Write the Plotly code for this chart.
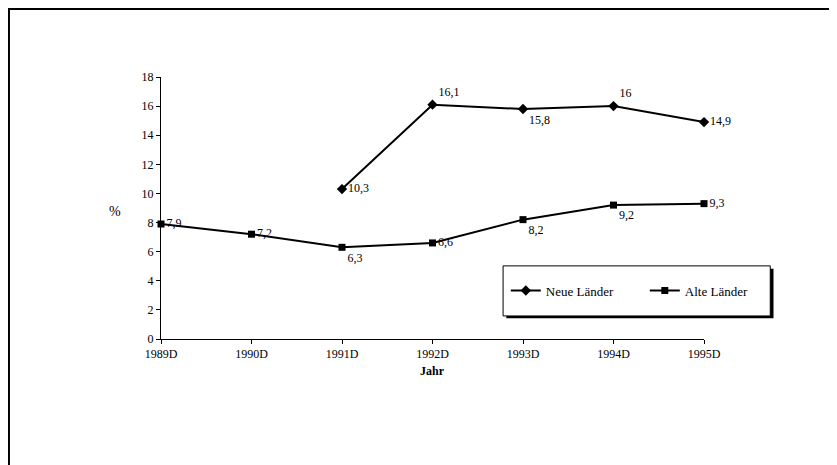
import plotly.graph_objects as go

# data
years = ["1989D", "1990D", "1991D", "1992D", "1993D", "1994D", "1995D"]
neue_laender = [None, None, 10.3, 16.1, 15.8, 16.0, 14.9]
alte_laender = [7.9, 7.2, 6.3, 6.6, 8.2, 9.2, 9.3]
y_ticks = [0, 2, 4, 6, 8, 10, 12, 14, 16, 18]

# label placement per point (style only)
neue_pos = ["middle right", "middle right", "middle right", "top right",
            "bottom right", "top right", "middle right"]
alte_pos = ["middle right", "middle right", "bottom right", "middle right",
            "bottom right", "bottom right", "middle right"]

FONT = "Liberation Serif, Times New Roman, DejaVu Serif, serif"


def de_label(v):
    if v is None:
        return ""
    return f"{v:g}".replace(".", ",")


fig = go.Figure()
fig.add_trace(go.Scatter(
    x=years, y=neue_laender, name="Neue Länder",
    mode="lines+markers+text",
    line=dict(color="black", width=2),
    marker=dict(symbol="diamond", size=8, color="black"),
    text=[de_label(v) for v in neue_laender],
    textposition=neue_pos,
    textfont=dict(family=FONT, size=12, color="black"),
    cliponaxis=False,
))
fig.add_trace(go.Scatter(
    x=years, y=alte_laender, name="Alte Länder",
    mode="lines+markers+text",
    line=dict(color="black", width=2),
    marker=dict(symbol="square", size=7, color="black"),
    text=[de_label(v) for v in alte_laender],
    textposition=alte_pos,
    textfont=dict(family=FONT, size=12, color="black"),
    cliponaxis=False,
))

# page body adds an 8px margin, so the figure is 8px smaller than the window
fig.update_layout(
    width=829, height=457,
    margin=dict(l=153, r=133, t=69, b=126),
    paper_bgcolor="white", plot_bgcolor="white",
    font=dict(family=FONT, size=11, color="black"),
    showlegend=True,
    legend=dict(
        orientation="h", x=0.635, y=0.185, xanchor="left", yanchor="middle",
        bgcolor="rgba(0,0,0,0)", borderwidth=0,
        font=dict(family=FONT, size=13, color="black"),
        entrywidth=94, itemwidth=30,
    ),
)
fig.update_xaxes(
    type="category", range=[0, 6],
    showline=True, linecolor="black", linewidth=1,
    ticks="outside", ticklen=4, tickcolor="black",
    showgrid=False, zeroline=False,
    tickfont=dict(family=FONT, size=12, color="black"),
)
fig.update_yaxes(
    range=[0, 18], tickvals=y_ticks,
    showline=True, linecolor="black", linewidth=1,
    ticks="outside", ticklen=4, tickcolor="black",
    showgrid=False, zeroline=False,
    tickfont=dict(family=FONT, size=12, color="black"),
)

# outer frame, legend box with shadow
fig.add_shape(type="rect", xref="paper", yref="paper",
              x0=-0.280, x1=1.243, y0=-0.55, y1=1.26,
              line=dict(color="black", width=2), layer="below")
fig.add_shape(type="rect", xref="paper", yref="paper",
              x0=0.636, x1=1.128, y0=0.079, y1=0.268,
              line=dict(color="black", width=0), fillcolor="black", layer="above")
fig.add_shape(type="rect", xref="paper", yref="paper",
              x0=0.630, x1=1.122, y0=0.088, y1=0.279,
              line=dict(color="black", width=1), fillcolor="white", layer="above")

fig.add_annotation(text="%", xref="paper", yref="paper", x=-0.0994, y=0.485,
                   showarrow=False, font=dict(family=FONT, size=14, color="black"))
fig.add_annotation(text="<b>Jahr</b>", xref="paper", yref="paper", x=0.5, y=-0.156,
                   showarrow=False, font=dict(family=FONT, size=12, color="black"))

fig.write_html("out.html")
